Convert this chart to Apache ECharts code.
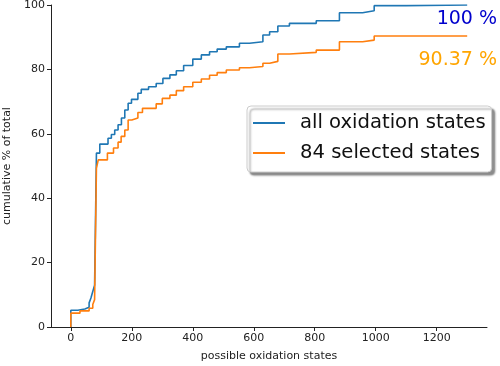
<!DOCTYPE html>
<html><head><meta charset="utf-8">
<script src="https://cdn.jsdelivr.net/npm/echarts@6/dist/echarts.min.js"></script>
<style>html,body{margin:0;padding:0;background:#fff}#c{width:500px;height:366px}</style>
</head><body><div id="c"></div>
<script>
// Step points: [possible oxidation states, cumulative % of total]
const allStatesX = [0,0,23,46,60,66,72,78,84,95,122,133,144,155,166,177,188,199,220,231,255,280,302,325,346,370,400,428,455,480,510,553,586,630,652,679,717,805,881,957,995,1099,1300];
const allStatesY = [0,5.2,5.6,6.1,7.5,9,11,13,54,56.8,58.6,59.8,61.2,62.8,64.9,67.4,69.5,70.7,72.6,73.8,74.6,75.6,77.2,78.3,79.6,81.2,83.2,84.5,85.5,86.3,87.0,88.1,88.6,90.7,91.7,93.5,94.3,95.1,97.6,98.2,99.8,100,100];
const selectedX = [0,0,30,60,72,78,84,90,120,140,155,165,177,188,200,220,235,280,300,325,346,370,400,428,455,480,510,553,586,630,652,679,717,805,881,957,995,1300];
const selectedY = [0,4.3,5.0,5.8,7,8.5,49.3,51.9,54,55.6,57.4,59.2,61.2,64.3,64.9,66.6,67.9,69.3,71.0,72.0,73.4,74.6,76.0,77.0,78.2,79.0,79.8,80.5,80.9,81.9,82.5,84.8,85.3,86.0,88.6,89.1,90.37,90.37];
const xTicks = [0,200,400,600,800,1000,1200];
const seriesNames = ['all oxidation states','84 selected states'];
const endLabels = ['100 %','90.37 %'];

const zip = (xs, ys) => xs.map((x, i) => [x, ys[i]]);
const chart = echarts.init(document.getElementById('c'), null, {renderer:'canvas'});
const font = 'DejaVu Sans';
chart.setOption({
  animation:false,
  textStyle:{fontFamily:font},
  grid:{left:51,right:13,top:5,bottom:39,containLabel:false,outerBoundsMode:'none'},
  xAxis:{type:'value',min:-65,max:1365,
    name:'possible oxidation states',nameLocation:'middle',nameGap:24,
    nameTextStyle:{fontSize:11,color:'#222',fontFamily:font},
    axisLine:{onZero:false,lineStyle:{color:'#222',width:1}},
    axisTick:{show:true,inside:false,length:4,lineStyle:{color:'#222'},customValues:xTicks},
    axisLabel:{fontSize:11,color:'#222',margin:6,customValues:xTicks,fontFamily:font,formatter:v=>String(v)},
    splitLine:{show:false}},
  yAxis:{type:'value',min:0,max:100,interval:20,
    name:'cumulative % of total',nameLocation:'middle',nameGap:37,nameRotate:90,
    nameTextStyle:{fontSize:11,color:'#222',fontFamily:font},
    axisLine:{show:true,onZero:false,lineStyle:{color:'#222',width:1}},
    axisTick:{show:true,inside:false,length:4,lineStyle:{color:'#222'}},
    axisLabel:{fontSize:11,color:'#222',margin:6,fontFamily:font},
    splitLine:{show:false}},
  legend:{left:247,top:106,orient:'vertical',
    data:seriesNames,icon:'rect',
    itemWidth:32,itemHeight:2,itemGap:10,
    padding:[7,6,9,6],
    backgroundColor:'#fff',borderColor:'#ccc',borderWidth:1,borderRadius:4,
    shadowColor:'rgba(0,0,0,0.45)',shadowOffsetX:3,shadowOffsetY:3,shadowBlur:2,
    textStyle:{fontSize:19.6,lineHeight:19,color:'#111',fontFamily:font,padding:[0,0,0,10]}},
  graphic:[
    {type:'text',right:3,top:10,style:{text:endLabels[0],fill:'#0000cd',font:'19px "DejaVu Sans"'}},
    {type:'text',right:3,top:51,style:{text:endLabels[1],fill:'#ffa500',font:'19px "DejaVu Sans"'}}
  ],
  series:[
    {name:seriesNames[0],type:'line',step:'end',symbol:'none',data:zip(allStatesX,allStatesY),
     lineStyle:{color:'#1f77b4',width:1.6},itemStyle:{color:'#1f77b4'},z:2},
    {name:seriesNames[1],type:'line',step:'end',symbol:'none',data:zip(selectedX,selectedY),
     lineStyle:{color:'#ff7f0e',width:1.6},itemStyle:{color:'#ff7f0e'},z:3}
  ]
});
</script></body></html>
